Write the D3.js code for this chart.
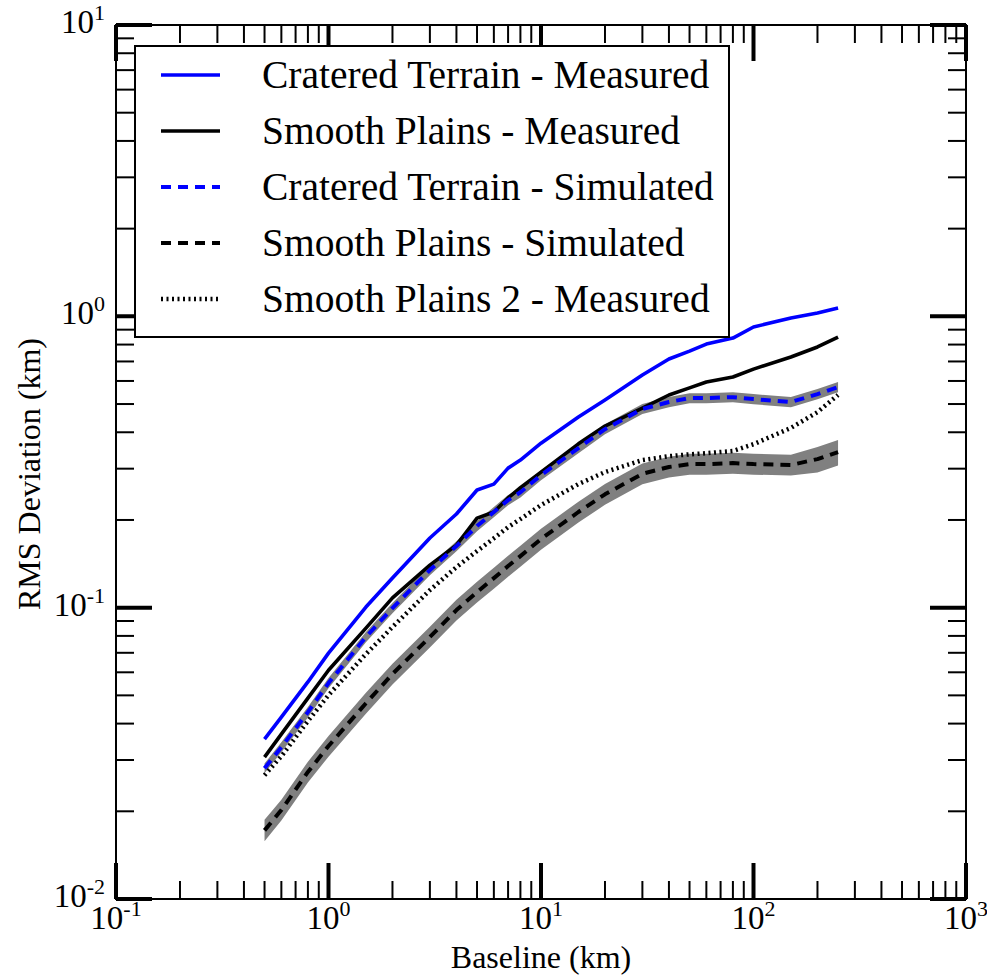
<!DOCTYPE html>
<html>
<head>
<meta charset="utf-8">
<script src="https://cdn.jsdelivr.net/npm/d3@7"></script>
<style>
  body { margin: 0; background: #fff; }
  svg text { font-family: "Liberation Serif", "Times New Roman", serif; fill: #000; }
</style>
</head>
<body>
<div id="chart"></div>
<script>
// baselines (km)
var baselines = [0.5, 0.6, 0.8, 1, 1.5, 2, 3, 4, 5, 6, 7, 8, 10, 15, 20, 30, 40, 50, 60, 80, 100, 150, 200, 250];

// RMS deviation (km)
var crateredMeasured = [0.0354, 0.0421, 0.0556, 0.0698, 0.1005, 0.1264, 0.1734, 0.2096, 0.2535, 0.2656, 0.3013, 0.321, 0.367, 0.451, 0.516, 0.629, 0.714, 0.760, 0.803, 0.842, 0.919, 0.987, 1.026, 1.068];
var smoothMeasured = [0.0307, 0.0368, 0.0489, 0.0610, 0.0851, 0.108, 0.140, 0.164, 0.203, 0.213, 0.238, 0.258, 0.292, 0.365, 0.420, 0.484, 0.537, 0.568, 0.595, 0.619, 0.659, 0.725, 0.785, 0.849];
var crateredSimulated = [0.0281, 0.0332, 0.0438, 0.0551, 0.0793, 0.0997, 0.1346, 0.1627, 0.1906, 0.213, 0.234, 0.249, 0.285, 0.353, 0.410, 0.481, 0.508, 0.524, 0.524, 0.528, 0.520, 0.508, 0.541, 0.572];
var crateredSimLow = [0.0270, 0.0319, 0.0420, 0.0529, 0.0761, 0.0957, 0.1292, 0.1562, 0.1830, 0.2045, 0.2246, 0.2390, 0.2736, 0.3389, 0.3936, 0.4618, 0.4877, 0.5030, 0.5030, 0.5069, 0.4992, 0.4877, 0.5194, 0.5491];
var crateredSimHigh = [0.0292, 0.0345, 0.0456, 0.0573, 0.0825, 0.1037, 0.1400, 0.1692, 0.1982, 0.2215, 0.2434, 0.2590, 0.2964, 0.3671, 0.4264, 0.5002, 0.5283, 0.5450, 0.5450, 0.5491, 0.5408, 0.5283, 0.5626, 0.5949];
var smoothSimulated = [0.0172, 0.0202, 0.0273, 0.0335, 0.0470, 0.0592, 0.0793, 0.0981, 0.1131, 0.1263, 0.1389, 0.1503, 0.1720, 0.213, 0.245, 0.288, 0.304, 0.311, 0.311, 0.3135, 0.311, 0.3088, 0.3236, 0.342];
var smoothSimLow = [0.0158, 0.0186, 0.0251, 0.0308, 0.0432, 0.0545, 0.0730, 0.0903, 0.1041, 0.1162, 0.1278, 0.1383, 0.1582, 0.1960, 0.2254, 0.2650, 0.2797, 0.2861, 0.2861, 0.2884, 0.2861, 0.2841, 0.2912, 0.3078];
var smoothSimHigh = [0.0187, 0.0219, 0.0296, 0.0363, 0.0510, 0.0642, 0.0860, 0.1064, 0.1227, 0.1370, 0.1507, 0.1631, 0.1866, 0.2311, 0.2658, 0.3125, 0.3298, 0.3374, 0.3374, 0.3401, 0.3374, 0.3350, 0.3560, 0.3762];
var smooth2Measured = [0.0266, 0.0309, 0.0408, 0.0501, 0.0693, 0.0858, 0.1149, 0.1378, 0.1564, 0.173, 0.189, 0.2014, 0.225, 0.2656, 0.292, 0.321, 0.331, 0.336, 0.339, 0.345, 0.364, 0.414, 0.469, 0.537];

var seriesNames = ["Cratered Terrain - Measured", "Smooth Plains - Measured", "Cratered Terrain - Simulated", "Smooth Plains - Simulated", "Smooth Plains 2 - Measured"];

// axis tick labels: exponent of 10
var xExponents = [-1, 0, 1, 2, 3];
var yExponents = [-2, -1, 0, 1];

function init() {
    var W = 987, H = 977;
    var pLeft = 116, pRight = 966, pTop = 25, pBottom = 899;

    var svg = d3.select("#chart").append("svg")
        .attr("width", W).attr("height", H);

    var x = d3.scaleLog().domain([0.1, 1000]).range([pLeft, pRight]);
    var y = d3.scaleLog().domain([0.01, 10]).range([pBottom, pTop]);

    function lineOf(vals) {
        return d3.line()
            .x(function(d, i) { return x(baselines[i]); })
            .y(function(d) { return y(d); })(vals);
    }
    function bandOf(lo, hi) {
        return d3.area()
            .x(function(d, i) { return x(baselines[i]); })
            .y0(function(d, i) { return y(lo[i]); })
            .y1(function(d, i) { return y(hi[i]); })(lo);
    }

    // gray uncertainty bands
    svg.append("path").attr("d", bandOf(crateredSimLow, crateredSimHigh)).attr("fill", "#808080");
    svg.append("path").attr("d", bandOf(smoothSimLow, smoothSimHigh)).attr("fill", "#808080");

    var styles = [
        { vals: crateredMeasured, color: "#0000ff", w: 3.6, dash: null },
        { vals: smoothMeasured, color: "#000", w: 3.6, dash: null },
        { vals: crateredSimulated, color: "#0000ff", w: 4, dash: "10,7" },
        { vals: smoothSimulated, color: "#000", w: 4, dash: "10,7" },
        { vals: smooth2Measured, color: "#000", w: 4.5, dash: "2,3.5" }
    ];

    styles.forEach(function(s) {
        svg.append("path")
            .attr("d", lineOf(s.vals))
            .attr("fill", "none")
            .attr("stroke", s.color)
            .attr("stroke-width", s.w)
            .attr("stroke-dasharray", s.dash)
            .attr("stroke-linejoin", "round");
    });

    // frame
    svg.append("rect")
        .attr("x", pLeft).attr("y", pTop)
        .attr("width", pRight - pLeft).attr("height", pBottom - pTop)
        .attr("fill", "none").attr("stroke", "#000").attr("stroke-width", 2);

    // ticks on all four sides, pointing inward
    var majLen = 36, minLen = 18;
    function isMajor(v) { return Math.abs(Math.log10(v) - Math.round(Math.log10(v))) < 1e-9; }

    var g = svg.append("g").attr("stroke", "#000");

    x.ticks().forEach(function(v) {
        var m = isMajor(v), L = m ? majLen : minLen, sw = m ? 4 : 2;
        g.append("line").attr("x1", x(v)).attr("x2", x(v)).attr("y1", pBottom).attr("y2", pBottom - L).attr("stroke-width", sw);
        g.append("line").attr("x1", x(v)).attr("x2", x(v)).attr("y1", pTop).attr("y2", pTop + L).attr("stroke-width", sw);
    });
    y.ticks().forEach(function(v) {
        var m = isMajor(v), L = m ? majLen : minLen, sw = m ? 4 : 2;
        g.append("line").attr("y1", y(v)).attr("y2", y(v)).attr("x1", pLeft).attr("x2", pLeft + L).attr("stroke-width", sw);
        g.append("line").attr("y1", y(v)).attr("y2", y(v)).attr("x1", pRight).attr("x2", pRight - L).attr("stroke-width", sw);
    });

    // tick labels
    xExponents.forEach(function(e) {
        var t = svg.append("text")
            .attr("x", x(Math.pow(10, e)))
            .attr("y", 929)
            .attr("text-anchor", "middle")
            .style("font-size", "33px");
        t.append("tspan").text("10");
        t.append("tspan").attr("dy", -13).style("font-size", "22px").text(e);
    });
    yExponents.forEach(function(e) {
        var t = svg.append("text")
            .attr("x", 105)
            .attr("y", y(Math.pow(10, e)) + 8)
            .attr("text-anchor", "end")
            .style("font-size", "33px");
        t.append("tspan").text("10");
        t.append("tspan").attr("dy", -13).style("font-size", "22px").text(e);
    });

    // axis titles
    svg.append("text")
        .attr("x", (pLeft + pRight) / 2).attr("y", 968)
        .attr("text-anchor", "middle")
        .style("font-size", "32px")
        .text("Baseline (km)");
    svg.append("text")
        .attr("transform", "translate(40," + ((pTop + pBottom) / 2 + 12) + ") rotate(-90)")
        .attr("text-anchor", "middle")
        .style("font-size", "32px")
        .text("RMS Deviation (km)");

    // legend
    var legend = svg.append("g");
    legend.append("rect")
        .attr("x", 135).attr("y", 46).attr("width", 594).attr("height", 291)
        .attr("fill", "#fff").attr("stroke", "#000").attr("stroke-width", 2);

    styles.forEach(function(s, i) {
        var ry = 75 + i * 56;
        legend.append("line")
            .attr("x1", 161).attr("x2", 220).attr("y1", ry).attr("y2", ry)
            .attr("stroke", s.color)
            .attr("stroke-width", s.w)
            .attr("stroke-dasharray", s.dash);
        legend.append("text")
            .attr("x", 262).attr("y", ry + 13)
            .style("font-size", "39.5px")
            .text(seriesNames[i]);
    });
}
window.onload = init;
</script>
</body>
</html>
